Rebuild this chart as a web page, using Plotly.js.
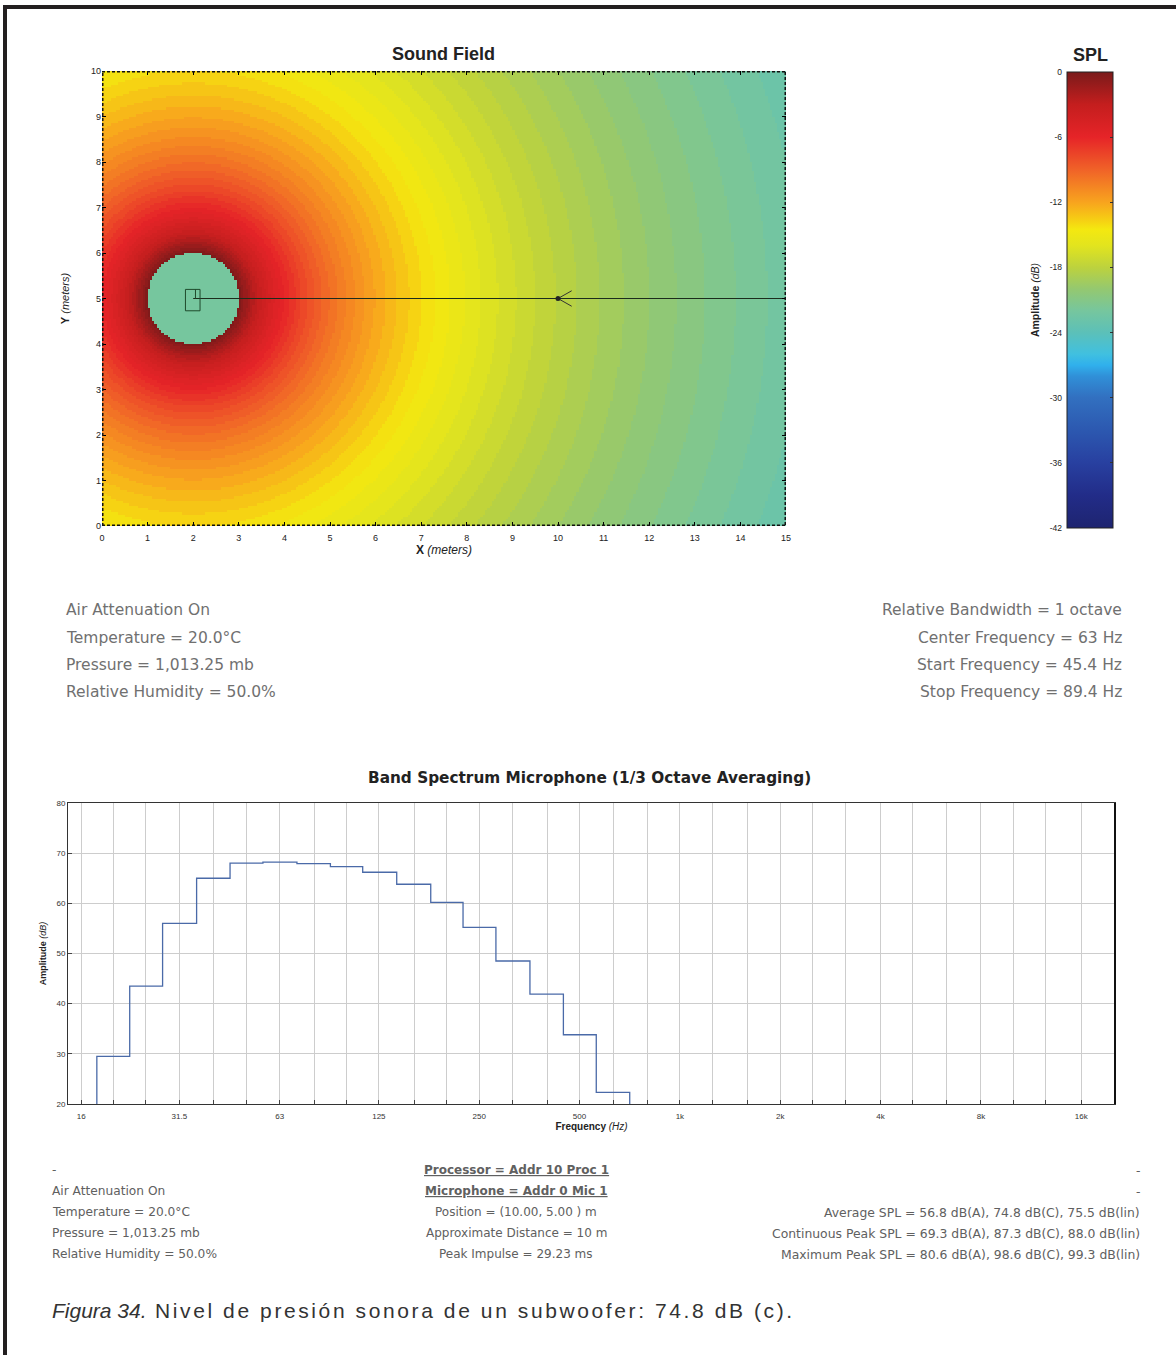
<!DOCTYPE html>
<html><head><meta charset="utf-8">
<script src="https://cdn.plot.ly/plotly-3.0.1.min.js"></script>
<style>html,body{margin:0;padding:0;background:#fff}#chart{width:1176px;height:1355px}</style>
</head><body><div id="chart"></div>
<script>
// ---------------- Sound field ----------------
const fieldX = [0, 15];            // metres
const fieldY = [0, 10];            // metres
const fieldXTicks = [0,1,2,3,4,5,6,7,8,9,10,11,12,13,14,15];
const fieldYTicks = [0,1,2,3,4,5,6,7,8,9,10];
const sourcePos = [2, 5];          // loudspeaker
const micPos = [10, 5];            // microphone
const nearFieldRadius = 1.0;       // masked disc around the source
const nearFieldSPL = -22;          // level colour shown inside the disc
// concentric rings (0.5 dB each): level of each ring and its outer radius (m)
const ringSPL = [-0.25,-0.75,-1.25,-1.75,-2.25,-2.75,-3.25,-3.75,-4.25,-4.75,-5.25,-5.75,-6.25,-6.75,-7.25,-7.75,
  -8.25,-8.75,-9.25,-9.75,-10.25,-10.75,-11.25,-11.75,-12.25,-12.75,-13.25,-13.75,-14.25,-14.75,-15.25,-15.75,
  -16.25,-16.75,-17.25,-17.75,-18.25,-18.75,-19.25,-19.75,-20.25,-20.75,-21.25,-21.75,-22.25,-22.75,-23.25];
const ringOuterRadius = [1.059,1.122,1.189,1.259,1.334,1.413,1.496,1.585,1.679,1.778,1.884,1.995,2.113,2.239,2.371,2.512,
  2.661,2.818,2.985,3.162,3.350,3.548,3.758,3.981,4.217,4.467,4.732,5.012,5.309,5.623,5.957,6.310,
  6.683,7.079,7.499,7.943,8.414,8.913,9.441,10.00,10.59,11.22,11.89,12.59,13.34,14.13,16.0];
const splRange = [-42, 0];
const splTicks = [0,-6,-12,-18,-24,-30,-36,-42];

// ---------------- Band spectrum (1/3 octave) ----------------
const bandCenters = [20,25,31.5,40,50,63,80,100,125,160,200,250,315,400,500,630];
const bandLevels  = [29.5,43.5,56.0,65.0,68.0,68.2,67.9,67.3,66.2,63.8,60.2,55.2,48.5,41.9,33.8,22.3];
const ampRange = [20, 80];
const ampTicks = [20,30,40,50,60,70,80];
const freqTicks = [16,20,25,31.5,40,50,63,80,100,125,160,200,250,315,400,500,630,800,1000,1250,1600,2000,2500,3150,4000,5000,6300,8000,10000,12500,16000];
const freqTickLabels = ['16','','','31.5','','','63','','','125','','','250','','','500','','','1k','','','2k','','','4k','','','8k','','','16k'];
const freqRange = [14.6, 20200];

// ---------------- texts ----------------
const envLines = ['Air Attenuation On','Temperature = 20.0°C','Pressure = 1,013.25 mb','Relative Humidity = 50.0%'];
const bandLines = ['Relative Bandwidth = 1 octave','Center Frequency = 63 Hz','Start Frequency = 45.4 Hz','Stop Frequency = 89.4 Hz'];
const footLeft = ['-','Air Attenuation On','Temperature = 20.0°C','Pressure = 1,013.25 mb','Relative Humidity = 50.0%'];
const footMid = ['<b><u>Processor = Addr 10 Proc 1</u></b>','<b><u>Microphone = Addr 0 Mic 1</u></b>','Position = (10.00, 5.00 ) m','Approximate Distance = 10 m','Peak Impulse = 29.23 ms'];
const footRight = ['-','-','Average SPL = 56.8 dB(A), 74.8 dB(C), 75.5 dB(lin)','Continuous Peak SPL = 69.3 dB(A), 87.3 dB(C), 88.0 dB(lin)','Maximum Peak SPL = 80.6 dB(A), 98.6 dB(C), 99.3 dB(lin)'];
const captionLead = 'Figura 34.';
const captionText = 'Nivel de presión sonora de un subwoofer: 74.8 dB (c).';

// ---------------- helpers ----------------
const W = 1176, H = 1355;
const px = x => x / W, py = y => 1 - y / H;

// field grid (cell centres), values looked up from the ring table
const cell = 0.05;
const nx = Math.round((fieldX[1]-fieldX[0])/cell), ny = Math.round((fieldY[1]-fieldY[0])/cell);
const gx = [], gy = [];
for (let i = 0; i < nx; i++) gx.push(fieldX[0] + (i + 0.5) * cell);
for (let j = 0; j < ny; j++) gy.push(fieldY[0] + (j + 0.5) * cell);
const gz = gy.map(y => gx.map(x => {
  const r = Math.hypot(x - sourcePos[0], y - sourcePos[1]);
  if (r < nearFieldRadius) return nearFieldSPL;
  for (let k = 0; k < ringOuterRadius.length; k++) if (r < ringOuterRadius[k]) return ringSPL[k];
  return ringSPL[ringSPL.length - 1];
}));

const jetScale = [
  [0.000,'#1e2470'],[0.071,'#222c88'],[0.143,'#2840a0'],[0.214,'#2c58b0'],[0.286,'#3270c0'],
  [0.333,'#3090d8'],[0.357,'#30b0ec'],[0.381,'#40c0e0'],[0.429,'#5cc0b8'],[0.476,'#76c69e'],
  [0.524,'#94c870'],[0.571,'#bcd23e'],[0.619,'#e2e41e'],[0.655,'#f4e810'],[0.678,'#f6cc14'],
  [0.714,'#f8a41e'],[0.786,'#f06228'],[0.857,'#e62428'],[0.929,'#c41e1e'],[1.000,'#7a1a1a']
];

// step outline of the 1/3-octave bands
const edges = [];
for (let i = 0; i <= bandCenters.length; i++) {
  if (i === 0) edges.push(bandCenters[0] / Math.pow(2, 1/6));
  else if (i === bandCenters.length) edges.push(bandCenters[i-1] * Math.pow(2, 1/6));
  else edges.push(Math.sqrt(bandCenters[i-1] * bandCenters[i]));
}
const stepX = [edges[0]], stepY = [ampRange[0]];
bandLevels.forEach((v, i) => { stepX.push(edges[i], edges[i+1]); stepY.push(v, v); });
stepX.push(edges[edges.length-1]); stepY.push(ampRange[0]);

const arial = 'Liberation Sans, Arial, sans-serif';
const verd = 'DejaVu Sans, Verdana, sans-serif';
const tickFont = {family:arial, size:9, color:'#222'};
const smallFont = {family:arial, size:8, color:'#333'};

const traces = [
  {type:'heatmap', x:gx, y:gy, z:gz, zmin:splRange[0], zmax:splRange[1], zsmooth:false,
   colorscale:jetScale, xaxis:'x', yaxis:'y', hoverinfo:'skip',
   colorbar:{x:px(1067), xanchor:'left', xpad:0, y:py(72), yanchor:'top', ypad:0,
     thickness:46, len:456, lenmode:'pixels', outlinewidth:1, outlinecolor:'#222',
     showticklabels:false, ticks:'inside', ticklen:3, tickcolor:'#333',
     tickvals:splTicks.slice(1,-1)}},
  {type:'scatter', mode:'lines', x:[sourcePos[0], fieldX[1]], y:[sourcePos[1], sourcePos[1]],
   line:{color:'#1c2c1c', width:1}, xaxis:'x', yaxis:'y', hoverinfo:'skip'},
  {type:'scatter', mode:'lines', x:[micPos[0]+0.3, micPos[0], micPos[0]+0.3], y:[micPos[1]+0.17, micPos[1], micPos[1]-0.17],
   line:{color:'#333', width:1}, xaxis:'x', yaxis:'y', hoverinfo:'skip'},
  {type:'scatter', mode:'markers', x:[micPos[0]], y:[micPos[1]],
   marker:{color:'#222', size:5}, xaxis:'x', yaxis:'y', hoverinfo:'skip'},
  {type:'scatter', mode:'lines', x:[], y:[], xaxis:'x3', yaxis:'y3', hoverinfo:'skip'},
  {type:'scatter', mode:'lines', x:stepX, y:stepY, line:{color:'#4a6aa8', width:1.3},
   xaxis:'x2', yaxis:'y2', hoverinfo:'skip'}
];

const annotations = [];
function addText(text, x, y, anchor, font) {
  annotations.push({text, x:px(x), y:py(y), xref:'paper', yref:'paper', xanchor:anchor, yanchor:'middle',
    showarrow:false, font});
}
addText('<b>Sound Field</b>', 444, 54, 'center', {family:arial, size:18, color:'#222'});
addText('<b>SPL</b>', 1090, 55, 'center', {family:arial, size:18, color:'#222'});
addText('<b>Band Spectrum Microphone (1/3 Octave Averaging)</b>', 590, 778, 'center', {family:verd, size:15.3, color:'#222'});
const midRows = [610, 638, 665, 692];
envLines.forEach((t, i) => addText(t, 64, midRows[i], 'left', {family:verd, size:15.5, color:'#707070'}));
bandLines.forEach((t, i) => addText(t, 1124, midRows[i], 'right', {family:verd, size:15.5, color:'#707070'}));
const footRows = [1170, 1191, 1212, 1233, 1254];
footLeft.forEach((t, i) => addText(t, 50, footRows[i], 'left', {family:verd, size:12.2, color:'#606060'}));
footMid.forEach((t, i) => addText(t, 516, footRows[i], 'center', {family:verd, size:12, color:'#606060'}));
footRight.forEach((t, i) => addText(t, 1142, footRows[i], 'right', {family:verd, size:12.4, color:'#606060'}));
addText('<i>' + captionLead + '</i><span style="letter-spacing:2.6px"> ' + captionText + '</span>', 50, 1310, 'left',
  {family:arial, size:21, color:'#333'});

const shapes = [
  // dotted frame of the sound field
  {type:'rect', xref:'x', yref:'y', x0:fieldX[0], x1:fieldX[1], y0:fieldY[0], y1:fieldY[1],
   line:{color:'#111', width:3, dash:'3px,2px'}},
  // loudspeaker symbol
  {type:'rect', xref:'x', yref:'y', x0:sourcePos[0]-0.17, x1:sourcePos[0]+0.15, y0:sourcePos[1]-0.27, y1:sourcePos[1]+0.2,
   line:{color:'#1f4a2c', width:1}},
  {type:'line', xref:'x', yref:'y', x0:sourcePos[0]+0.05, x1:sourcePos[0]+0.05, y0:sourcePos[1], y1:sourcePos[1]+0.2,
   line:{color:'#1f4a2c', width:1}},
  // right border of the spectrum plot (darker in the original)
  {type:'line', xref:'x2 domain', yref:'y2 domain', x0:1, x1:1, y0:0, y1:1, line:{color:'#111', width:2}},
  // page frame
  {type:'line', xref:'paper', yref:'paper', x0:px(3), x1:1, y0:py(7), y1:py(7), line:{color:'#231f20', width:4}},
  {type:'line', xref:'paper', yref:'paper', x0:px(5), x1:px(5), y0:py(5), y1:0, line:{color:'#231f20', width:4}}
];

const layout = {
  width:W, height:H, margin:{l:0,r:0,t:0,b:0}, paper_bgcolor:'#fff', plot_bgcolor:'#fff',
  showlegend:false, annotations, shapes,
  xaxis:{domain:[px(102), px(786)], range:fieldX, anchor:'y', tickvals:fieldXTicks, ticks:'inside', ticklen:4,
    tickcolor:'#000', mirror:'ticks', showgrid:false, zeroline:false, showline:false, tickfont:tickFont,
    ticklabelstandoff:5,
    title:{text:'<b>X</b> <i>(meters)</i>', font:{family:arial, size:12, color:'#222'}, standoff:3}},
  yaxis:{domain:[py(526), py(71)], range:fieldY, anchor:'x', tickvals:fieldYTicks, ticks:'inside', ticklen:4,
    tickcolor:'#000', mirror:'ticks', showgrid:false, zeroline:false, showline:false, tickfont:tickFont,
    title:{text:'<b>Y</b> <i>(meters)</i>', font:{family:arial, size:11, color:'#222'}, standoff:19}},
  xaxis3:{domain:[px(1067), px(1113)], anchor:'y3', visible:false, range:[0,1]},
  yaxis3:{domain:[py(528), py(72)], anchor:'x3', range:splRange, tickvals:splTicks, ticktext:splTicks.map(String),
    side:'left', showgrid:false, zeroline:false, showline:false, ticks:'', ticklabelstandoff:4,
    tickfont:{family:arial, size:8.5, color:'#222'},
    title:{text:'<b>Amplitude</b> <i>(dB)</i>', font:{family:arial, size:10.5, color:'#222'}, standoff:8}},
  xaxis2:{domain:[px(68), px(1115)], anchor:'y2', type:'log', range:[Math.log10(freqRange[0]), Math.log10(freqRange[1])],
    tickvals:freqTicks, ticktext:freqTickLabels, tickmode:'array', ticks:'inside', ticklen:4, tickcolor:'#444',
    showgrid:true, gridcolor:'#cdcdcd', gridwidth:1, showline:true, linecolor:'#333', linewidth:1, mirror:true,
    zeroline:false, tickfont:smallFont, ticklabelstandoff:4,
    title:{text:'<b>Frequency</b> <i>(Hz)</i>', font:{family:arial, size:10, color:'#222'}, standoff:1}},
  yaxis2:{domain:[py(1104), py(803)], anchor:'x2', range:ampRange, tickvals:ampTicks, ticks:'inside', ticklen:4,
    tickcolor:'#444', showgrid:true, gridcolor:'#cdcdcd', gridwidth:1, showline:true, linecolor:'#333', linewidth:1,
    mirror:true, zeroline:false, tickfont:smallFont,
    title:{text:'<b>Amplitude</b> <i>(dB)</i>', font:{family:arial, size:9, color:'#222'}, standoff:8}}
};

Plotly.newPlot('chart', traces, layout, {staticPlot:true, displayModeBar:false});
</script>
</body></html>
